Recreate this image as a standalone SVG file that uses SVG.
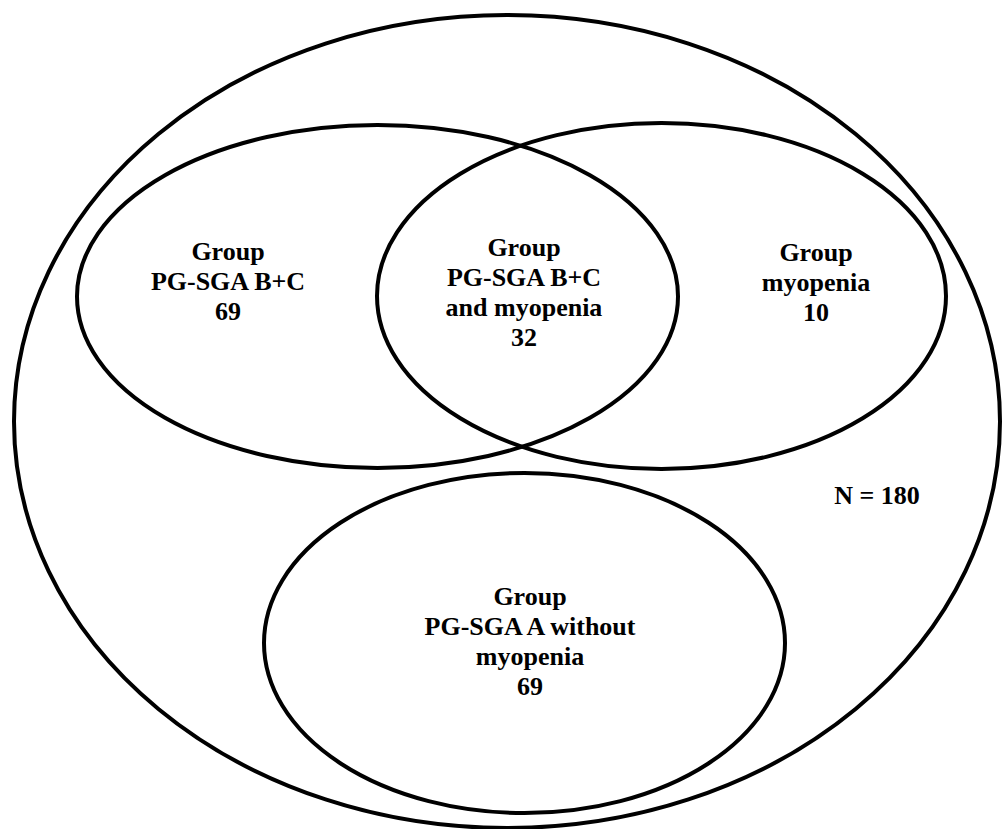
<svg xmlns="http://www.w3.org/2000/svg" width="1003" height="829" viewBox="0 0 1003 829">
<style>
.set{fill:none;stroke:#000;stroke-width:4}
.lbl{font-family:'Liberation Serif','DejaVu Serif','Times New Roman',Times,serif;font-weight:700;font-size:26px;fill:#000;text-anchor:middle}
</style>
<rect width="1003" height="829" fill="#fff"/>
<g id="connectors"></g>
<g id="universe">
<ellipse class="set" cx="507" cy="421.5" rx="493" ry="406.5"/>
<text class="lbl" x="877" y="504" font-family="Liberation Serif, serif">N = 180</text>
</g>
<g id="pgsga-bc">
<ellipse class="set" cx="377.5" cy="296.5" rx="300.5" ry="171.5"/>
<text class="lbl" x="228" y="260">Group</text>
<text class="lbl" x="228" y="290">PG-SGA B+C</text>
<text class="lbl" x="228" y="320">69</text>
</g>
<g id="myopenia">
<ellipse class="set" cx="661.5" cy="296" rx="284.5" ry="173"/>
<text class="lbl" x="816" y="261">Group</text>
<text class="lbl" x="816" y="291">myopenia</text>
<text class="lbl" x="816" y="321">10</text>
</g>
<g id="both">
<text class="lbl" x="524" y="256">Group</text>
<text class="lbl" x="524" y="286">PG-SGA B+C</text>
<text class="lbl" x="524" y="316">and myopenia</text>
<text class="lbl" x="524" y="346">32</text>
</g>
<g id="pgsga-a">
<ellipse class="set" cx="524.5" cy="643" rx="260.5" ry="170"/>
<text class="lbl" x="530" y="605">Group</text>
<text class="lbl" x="530" y="635">PG-SGA A without</text>
<text class="lbl" x="530" y="665">myopenia</text>
<text class="lbl" x="530" y="695">69</text>
</g>
</svg>
